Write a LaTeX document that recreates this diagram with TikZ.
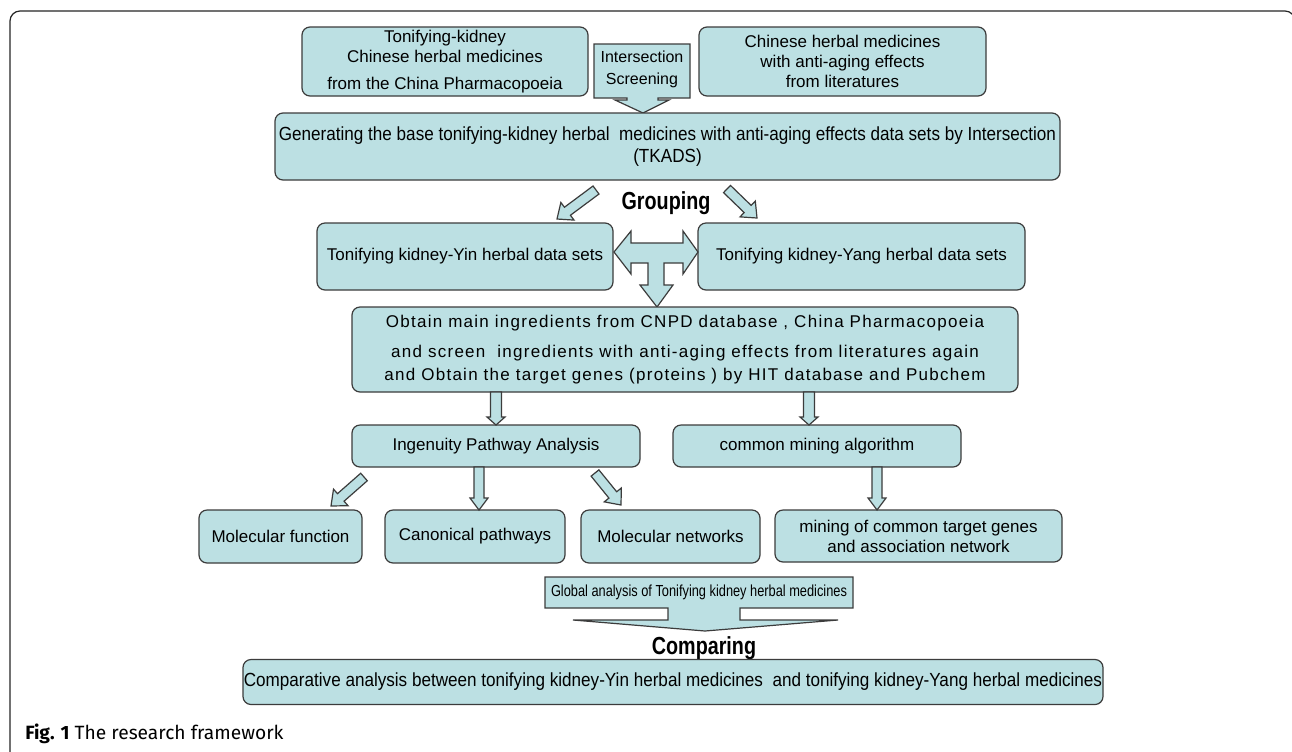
\documentclass[tikz,border=0pt]{standalone}
\usepackage{fontspec}
\setmainfont{Liberation Sans}
\newfontfamily\nrw{Liberation Sans}[FakeStretch=0.9]
\newfontfamily\nrwx{Liberation Sans}[FakeStretch=0.8]
\newfontfamily\spc{Liberation Sans}[LetterSpace=7.5]
\newfontfamily\capf{Fira Sans}
\usetikzlibrary{calc}
\definecolor{cy}{HTML}{BCE0E3}
\definecolor{bd}{HTML}{3C3C3C}
\tikzset{
  box/.style={draw=bd, fill=cy, rounded corners=6pt, line width=0.9pt, inner sep=0pt,
    align=center, font=\fontsize{12.75}{15}\selectfont},
  nrwbox/.style={box, font=\nrw\fontsize{14.25}{16.5}\selectfont},
  arr/.style={draw=bd, fill=cy, line width=0.9pt, line join=miter},
  bigword/.style={font=\nrwx\bfseries\fontsize{18.5}{20}\selectfont, inner sep=0pt},
}
\newcommand\barrow[5]{%
  \coordinate (bah) at ($(#2)!#5!(#1)$);
  \draw[arr] ($(#1)!#3!90:(#2)$) -- ($(bah)!#3!90:(#2)$) -- ($(bah)!#4!90:(#2)$) -- (#2)
    -- ($(bah)!#4!-90:(#2)$) -- ($(bah)!#3!-90:(#2)$) -- ($(#1)!#3!-90:(#2)$) -- cycle;
}
\begin{document}
\begin{tikzpicture}[x=0.75pt,y=-0.75pt]
\useasboundingbox (0,0) rectangle (1292,751);
\fill[white] (0,0) rectangle (1292,751);
% outer frame
\draw[line width=0.9pt, black!85, rounded corners=7.5pt] (10,753) -- (10,11) -- (1295,11) -- (1295,753);

% top row
\node[box, minimum width=286*0.75pt, minimum height=69*0.75pt] (tl) at (445,61.5)
  {Tonifying-kidney\\Chinese herbal medicines\\[5pt]from the China Pharmacopoeia};
\node[box, minimum width=287*0.75pt, minimum height=69*0.75pt] (tr) at (842.5,61.5)
  {Chinese herbal medicines\\with anti-aging effects\\from literatures};
\draw[arr] (594,44) -- (690,44) -- (690,98) -- (658,98) -- (658,100) -- (669,100) -- (643,113)
  -- (615,100) -- (627,100) -- (627,98) -- (594,98) -- cycle;
\node[align=center, inner sep=0pt, font=\fontsize{12}{16.5}\selectfont] (inter) at (642,69)
  {Intersection\\Screening};

\node[nrwbox, minimum width=785*0.75pt, minimum height=67*0.75pt] (gen) at (667.5,146.5)
  {Generating the base tonifying-kidney herbal\ \ medicines with anti-aging effects data sets by Intersection\\(TKADS)};

\node[bigword] (grp) at (666,203) {Grouping};
\coordinate (g1a) at (596,190); \coordinate (g1b) at (557,219);
\coordinate (g2a) at (727,189); \coordinate (g2b) at (757,218);
\barrow{g1a}{g1b}{3.75pt}{8.25pt}{9.75pt}
\barrow{g2a}{g2b}{3.75pt}{8.25pt}{9.75pt}

\node[box, minimum width=296*0.75pt, minimum height=67*0.75pt] (yin) at (465,256.5)
  {Tonifying kidney-Yin herbal data sets};
\node[box, minimum width=327*0.75pt, minimum height=67*0.75pt] (yang) at (861.5,256.5)
  {Tonifying kidney-Yang herbal data sets};

% T-shaped arrow
\draw[arr] (614,252) -- (631,231) -- (631,243) -- (683,243) -- (683,231) -- (698,252)
  -- (683,274) -- (683,263) -- (664,263) -- (664,285) -- (673,285) -- (657,307)
  -- (640,285) -- (648,285) -- (648,263) -- (631,263) -- (631,274) -- cycle;

\node[box, minimum width=666*0.75pt, minimum height=85*0.75pt,
  font=\spc\fontsize{12.75}{17.25}\selectfont] (obt) at (685,349.5)
  {Obtain main ingredients from CNPD database , China Pharmacopoeia\\[5.25pt]
   and screen\ \ ingredients with anti-aging effects from literatures again\\
   and Obtain the target genes (proteins ) by HIT database and Pubchem};

\node[box, minimum width=288*0.75pt, minimum height=42*0.75pt] (ipa) at (496,446)
  {Ingenuity Pathway Analysis};
\node[box, minimum width=288*0.75pt, minimum height=42*0.75pt] (cma) at (817,446)
  {common mining algorithm};

\coordinate (o1a) at (496,392); \coordinate (o1b) at (496,425);
\coordinate (o2a) at (809,392); \coordinate (o2b) at (809,425);
\barrow{o1a}{o1b}{4.1pt}{6.75pt}{6pt}
\barrow{o2a}{o2b}{4.1pt}{6.75pt}{6pt}

\node[box, minimum width=163*0.75pt, minimum height=53*0.75pt] (mf) at (280.5,536.5)
  {Molecular function};
\node[box, minimum width=180*0.75pt, minimum height=53*0.75pt] (cp) at (475,536.5)
  {Canonical pathways};
\node[box, minimum width=179*0.75pt, minimum height=53*0.75pt] (mn) at (670.5,536.5)
  {Molecular networks};
\node[box, minimum width=287*0.75pt, minimum height=52*0.75pt] (mcg) at (918.5,536)
  {mining of common target genes\\and association network};

\coordinate (i1a) at (364,477); \coordinate (i1b) at (331,506);
\coordinate (i2a) at (479,467); \coordinate (i2b) at (479,510);
\coordinate (i3a) at (595,473); \coordinate (i3b) at (621,505);
\coordinate (c1a) at (877,467); \coordinate (c1b) at (877,510);
\barrow{i1a}{i1b}{3.75pt}{8.25pt}{9.75pt}
\barrow{i2a}{i2b}{3.75pt}{6.75pt}{9pt}
\barrow{i3a}{i3b}{3.75pt}{8.25pt}{9.75pt}
\barrow{c1a}{c1b}{3.75pt}{6.75pt}{9pt}

% global analysis callout
\draw[arr] (545,577) -- (853,577) -- (853,608) -- (740,608) -- (740,620) -- (838,620) -- (705,631)
  -- (573,620) -- (668,620) -- (668,608) -- (545,608) -- cycle;
\node[inner sep=0pt, font=\nrwx\fontsize{12}{14}\selectfont] (glob) at (699,592)
  {Global analysis of Tonifying kidney herbal medicines};

\node[bigword] (cmpw) at (704,648) {Comparing};

\node[nrwbox, minimum width=860*0.75pt, minimum height=45*0.75pt] (comp) at (673,682)
  {Comparative analysis between tonifying kidney-Yin herbal medicines\ \ and tonifying kidney-Yang herbal medicines};

\node[anchor=base west, inner sep=0pt, font=\capf\fontsize{14.4}{16}\selectfont] (cap) at (25,739)
  {\textbf{Fig. 1} The research framework};
\end{tikzpicture}
\end{document}
